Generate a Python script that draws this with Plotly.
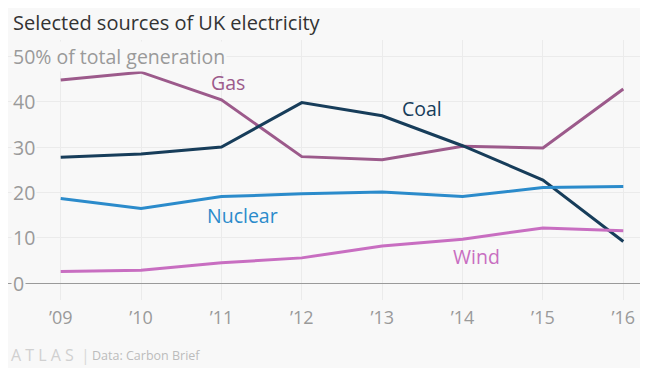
import plotly.graph_objects as go

# ---- data ----
years = [2009, 2010, 2011, 2012, 2013, 2014, 2015, 2016]
year_labels = ["’09", "’10", "’11", "’12", "’13", "’14", "’15", "’16"]
gas = [44.8, 46.5, 40.4, 27.9, 27.2, 30.2, 29.8, 42.8]
coal = [27.75, 28.5, 30.0, 39.8, 36.9, 30.3, 22.75, 9.2]
nuclear = [18.7, 16.5, 19.1, 19.7, 20.1, 19.1, 21.1, 21.3]
wind = [2.6, 2.9, 4.5, 5.6, 8.2, 9.7, 12.2, 11.6]
y_ticks = [0, 10, 20, 30, 40, 50]
y_tick_labels = ["0", "10", "20", "30", "40", "50% of total generation"]

series = [
    ("Gas", gas, "#9c5a8b", 2011.08, 44.3),
    ("Coal", coal, "#173d5a", 2013.49, 38.6),
    ("Nuclear", nuclear, "#2b8bcb", 2011.26, 15.0),
    ("Wind", wind, "#c86ec1", 2014.17, 5.9),
]

OFF = 8  # page body margin
W, H = 640, 360
# plot area in page coords: x 8..643, y 40..300
ML, MR, MT, MB = 8 - OFF, (OFF + W) - 643, 40 - OFF, (OFF + H) - 300
PW, PH = W - ML - MR, H - MT - MB
BG = "#f8f8f8"
FONT = "Open Sans"

def px_to_paper_x(px):
    return (px - OFF - ML) / PW

def py_to_paper_y(py):
    return (OFF + H - MB - py) / PH

fig = go.Figure()

# y tick labels (left aligned, with background masking the grid) - drawn below lines
for v, t in zip(y_ticks, y_tick_labels):
    fig.add_annotation(x=px_to_paper_x(11), y=v, xref="paper", yref="y", text=t,
                       showarrow=False, xanchor="left", yanchor="middle",
                       bgcolor=BG, borderpad=1,
                       font=dict(family=FONT, size=19.5, color="#9a9a9a"))

for name, vals, color, lx, ly in series:
    fig.add_trace(go.Scatter(x=years, y=vals, mode="lines", name=name,
                             line=dict(color=color, width=3), hoverinfo="skip"))
    fig.add_annotation(x=lx, y=ly, xref="x", yref="y", text=name, showarrow=False,
                       font=dict(family=FONT, size=19.5, color=color))

# footer
fig.add_annotation(x=px_to_paper_x(9), y=py_to_paper_y(355), xref="paper", yref="paper",
                   text="A T L A S", showarrow=False, xanchor="left", yanchor="middle",
                   font=dict(family=FONT, size=16, color="#d0d0d0"))
fig.add_annotation(x=px_to_paper_x(79), y=py_to_paper_y(355), xref="paper", yref="paper",
                   text="|", showarrow=False, xanchor="left", yanchor="middle",
                   font=dict(family=FONT, size=16, color="#d8d8d8"))
fig.add_annotation(x=px_to_paper_x(90), y=py_to_paper_y(355), xref="paper", yref="paper",
                   text="Data: Carbon Brief", showarrow=False, xanchor="left", yanchor="middle",
                   font=dict(family=FONT, size=12.5, color="#bcbcbc"))

x0 = 2009 - (60.7 - 8) / 80.37
x1 = 2016 + (643 - 623.3) / 80.37
y0 = -(300 - 283.3) / 4.54
y1 = (283.3 - 40) / 4.54

fig.update_layout(
    width=W, height=H, autosize=False,
    margin=dict(l=ML, r=MR, t=MT, b=MB),
    paper_bgcolor=BG, plot_bgcolor=BG,
    showlegend=False,
    title=dict(text="Selected sources of UK electricity", x=(13 - OFF) / W, xanchor="left",
               y=1 - (23 - OFF) / H, yanchor="middle",
               font=dict(family=FONT, size=20, color="#333333")),
    xaxis=dict(range=[x0, x1], tickvals=years, ticktext=year_labels, showgrid=True,
               gridcolor="#ebebeb", gridwidth=1, zeroline=False, showline=False,
               ticks="", ticklabelstandoff=5,
               tickfont=dict(family=FONT, size=18, color="#9a9a9a")),
    yaxis=dict(range=[y0, y1], tickvals=y_ticks, showticklabels=False, showgrid=True,
               gridcolor="#ebebeb", gridwidth=1, zeroline=True, zerolinecolor="#9a9a9a",
               zerolinewidth=1, showline=False, ticks=""),
)

fig.write_html("out.html")
